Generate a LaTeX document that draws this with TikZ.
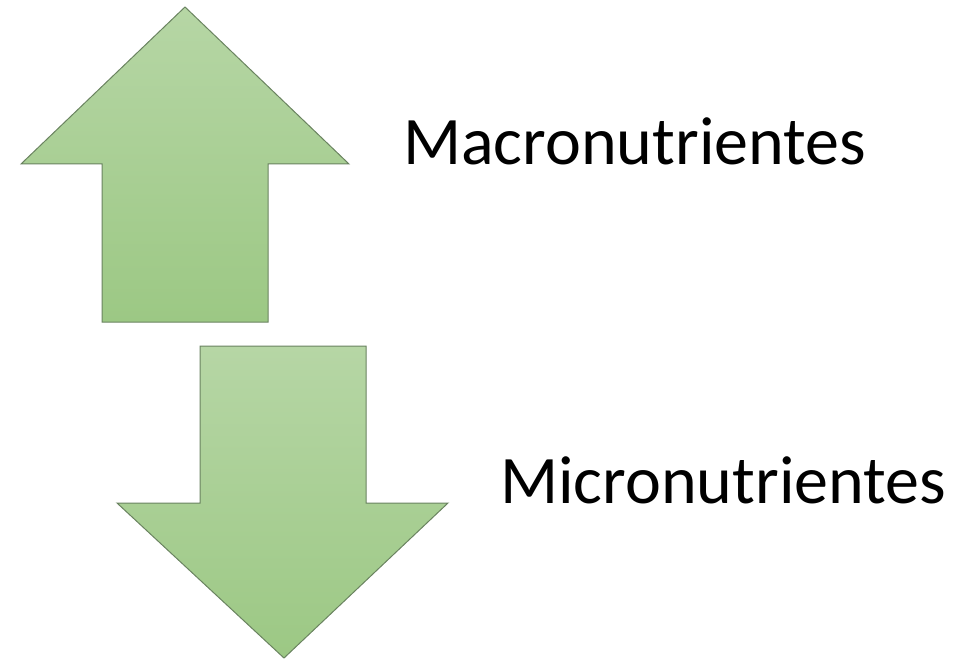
\documentclass[tikz,border=0pt]{standalone}
\usepackage{fontspec}
\setmainfont{Carlito}
\begin{document}
\begin{tikzpicture}[x=1pt,y=-1pt,
  label/.style={font=\fontsize{68}{68}\selectfont, anchor=base west, inner sep=0pt, text=black}]
\useasboundingbox (0,0) rectangle (976,660);
\definecolor{gtop}{HTML}{B6D6A5}
\definecolor{gbot}{HTML}{9CC884}
\definecolor{gline}{HTML}{6A8360}
\tikzset{arrowshape/.style={draw=gline, line width=1pt, line join=miter, top color=gtop, bottom color=gbot}}
\draw[arrowshape]
  (185,7) -- (349,164) -- (268,164) -- (268,322) -- (102,322) -- (102,164) -- (21,164) -- cycle;
\draw[arrowshape]
  (200,346) -- (366,346) -- (366,503) -- (448,503) -- (284,658) -- (117,503) -- (200,503) -- cycle;
\node[label] (macro) at (403,165) {Macronutrientes};
\node[label] (micro) at (500,503) {Micronutrientes};
\end{tikzpicture}
\end{document}
